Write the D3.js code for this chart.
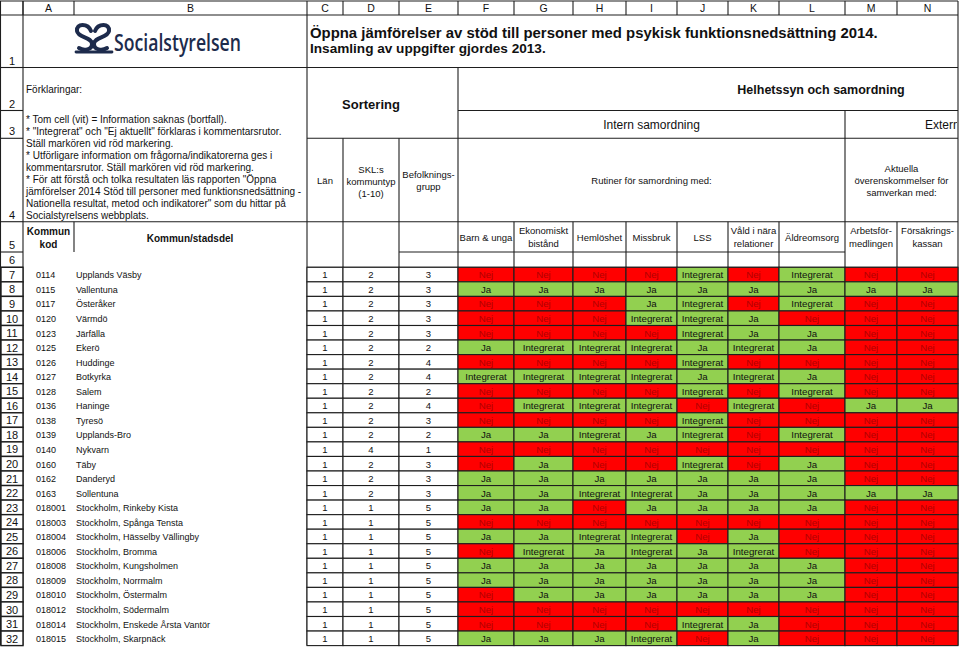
<!DOCTYPE html>
<html lang="sv">
<head>
<meta charset="utf-8">
<script src="https://cdn.jsdelivr.net/npm/d3@7"></script>
<style>
  html, body { margin: 0; padding: 0; background: #fff; }
  svg { display: block; font-family: "Liberation Sans", Arial, sans-serif; }
</style>
</head>
<body>
<div id="sheet"></div>
<script>
// ---- data ----
const colLetters = ["A", "B", "C", "D", "E", "F", "G", "H", "I", "J", "K", "L", "M", "N"];

const kommunKod = ["0114", "0115", "0117", "0120", "0123", "0125", "0126", "0127", "0128", "0136", "0138", "0139", "0140",
  "0160", "0162", "0163", "018001", "018003", "018004", "018006", "018008", "018009", "018010", "018012", "018014", "018015"];
const kommunNamn = ["Upplands Väsby", "Vallentuna", "Österåker", "Värmdö", "Järfälla", "Ekerö", "Huddinge", "Botkyrka",
  "Salem", "Haninge", "Tyresö", "Upplands-Bro", "Nykvarn", "Täby", "Danderyd", "Sollentuna",
  "Stockholm, Rinkeby Kista", "Stockholm, Spånga Tensta", "Stockholm, Hässelby Vällingby", "Stockholm, Bromma",
  "Stockholm, Kungsholmen", "Stockholm, Norrmalm", "Stockholm, Östermalm", "Stockholm, Södermalm",
  "Stockholm, Enskede Årsta Vantör", "Stockholm, Skarpnäck"];
const lan = [1, 1, 1, 1, 1, 1, 1, 1, 1, 1, 1, 1, 1, 1, 1, 1, 1, 1, 1, 1, 1, 1, 1, 1, 1, 1];
const kommuntyp = [2, 2, 2, 2, 2, 2, 2, 2, 2, 2, 2, 2, 4, 2, 2, 2, 1, 1, 1, 1, 1, 1, 1, 1, 1, 1];
const befolkningsgrupp = [3, 3, 3, 3, 3, 2, 4, 4, 2, 4, 3, 2, 1, 3, 3, 3, 5, 5, 5, 5, 5, 5, 5, 5, 5, 5];

const N = "Nej", J = "Ja", I = "Integrerat";
const barnOchUnga       = [N, J, N, N, N, J, N, I, N, N, N, J, N, N, J, J, J, N, J, N, J, J, N, N, N, J];
const ekonomisktBistand = [N, J, N, N, N, I, N, I, N, I, N, J, N, J, J, J, J, N, J, I, J, J, J, N, N, J];
const hemloshet         = [N, J, N, N, N, I, N, I, N, I, N, I, N, N, J, I, N, N, I, J, J, J, J, N, N, J];
const missbruk          = [N, J, J, I, N, I, N, I, N, I, N, J, N, N, J, I, J, N, I, I, J, J, J, N, N, I];
const lss               = [I, J, I, I, I, J, I, J, I, N, I, I, N, I, J, J, J, N, N, J, J, J, J, N, I, N];
const valdNaraRelationer= [N, J, N, J, J, I, N, I, N, I, N, N, N, N, J, J, J, N, J, I, J, J, J, N, J, J];
const aldreomsorg       = [I, J, I, N, J, J, N, J, I, N, N, I, N, J, J, J, J, N, N, N, J, J, J, N, N, N];
const arbetsformedlingen= [N, J, N, N, N, N, N, N, N, J, N, N, N, N, N, J, N, N, N, N, N, N, N, N, N, N];
const forsakringskassan = [N, J, N, N, N, N, N, N, N, J, N, N, N, N, N, J, N, N, N, N, N, N, N, N, N, N];

const svarKolumner = [
  { col: "F", label: ["Barn & unga"], values: barnOchUnga },
  { col: "G", label: ["Ekonomiskt", "bistånd"], values: ekonomisktBistand },
  { col: "H", label: ["Hemlöshet"], values: hemloshet },
  { col: "I", label: ["Missbruk"], values: missbruk },
  { col: "J", label: ["LSS"], values: lss },
  { col: "K", label: ["Våld i nära", "relationer"], values: valdNaraRelationer },
  { col: "L", label: ["Äldreomsorg"], values: aldreomsorg },
  { col: "M", label: ["Arbetsför-", "medlingen"], values: arbetsformedlingen },
  { col: "N", label: ["Försäkrings-", "kassan"], values: forsakringskassan }
];

const forklaringar = [
  "* Tom cell (vit) = Information saknas (bortfall).",
  "* \"Integrerat\" och \"Ej aktuellt\" förklaras i kommentarsrutor.",
  "Ställ markören vid röd markering.",
  "* Utförligare information om frågorna/indikatorerna ges i",
  "kommentarsrutor. Ställ markören vid röd markering.",
  "* För att förstå och tolka resultaten läs rapporten \"Öppna",
  "jämförelser 2014 Stöd till personer med funktionsnedsättning -",
  "Nationella resultat, metod och indikatorer\" som du hittar på",
  "Socialstyrelsens webbplats."
];

// ---- layout ----
const width = 960, height = 649;
const colEdges = [0, 23, 74, 307, 343, 399, 458, 514, 573, 626, 677, 728, 779, 845, 897, 958];
const rowEdges = [0, 15, 67.5, 110.5, 138.3, 221.7, 252, 267.3]; // header, rows 1-6
const dataTop = 267.3, dataBottom = 645.6;
const lineColor = "#1e1e1e";
const fill = { "Nej": "#ff0000", "Ja": "#92d050", "Integrerat": "#92d050" };
const textFill = { "Nej": "#b00000", "Ja": "#111", "Integrerat": "#111" };

const xL = c => colEdges[colLetters.indexOf(c) + 1];
const xR = c => colEdges[colLetters.indexOf(c) + 2];
const xC = c => (xL(c) + xR(c)) / 2;

const y = d3.scaleBand()
  .domain(d3.range(kommunKod.length))
  .range([dataTop, dataBottom]);

const svg = d3.select("#sheet").append("svg")
  .attr("width", width)
  .attr("height", height);

svg.append("defs").append("clipPath").attr("id", "clipRight")
  .append("rect").attr("x", 0).attr("y", 0).attr("width", 957).attr("height", height);

const lines = svg.append("g").attr("stroke", lineColor).attr("stroke-width", 1.1);
function seg(x1, y1, x2, y2) {
  lines.append("line").attr("x1", x1).attr("y1", y1).attr("x2", x2).attr("y2", y2);
}
function label(x, yy, txt, opts = {}) {
  const t = svg.append("text")
    .attr("x", x).attr("y", yy)
    .attr("text-anchor", opts.anchor || "middle")
    .attr("font-size", opts.size || 9.5)
    .attr("font-weight", opts.bold ? "bold" : null)
    .attr("fill", opts.color || "#111");
  if (opts.clip) t.attr("clip-path", "url(#clipRight)");
  t.text(txt);
  return t;
}
function multi(x, yCenter, arr, step, opts) {
  const start = yCenter - (arr.length - 1) * step / 2;
  arr.forEach((s, i) => label(x, start + i * step + 3.5, s, opts));
}

// ---- data cells ----
const rows = svg.append("g");
kommunKod.forEach((kod, i) => {
  const y0 = y(i), yb = y(i) + y.bandwidth();
  // row number box
  rows.append("rect").attr("x", 1).attr("y", y0).attr("width", 22).attr("height", y.bandwidth())
    .attr("fill", "#fff").attr("stroke", lineColor).attr("stroke-width", 1.4);
  label(12, yb - 3, i + 7, { size: 11 });
  label(36, yb - 3.5, kod, { anchor: "start", size: 9 });
  label(76, yb - 3.5, kommunNamn[i], { anchor: "start", size: 9 });
  [["C", lan], ["D", kommuntyp], ["E", befolkningsgrupp]].forEach(([c, arr]) => {
    rows.append("rect").attr("x", xL(c)).attr("y", y0).attr("width", xR(c) - xL(c)).attr("height", y.bandwidth())
      .attr("fill", "#fff").attr("stroke", lineColor).attr("stroke-width", 1.1);
    label(xC(c), yb - 3.5, arr[i], { size: 9.5 });
  });
  svarKolumner.forEach(k => {
    const v = k.values[i];
    rows.append("rect").attr("x", xL(k.col)).attr("y", y0).attr("width", xR(k.col) - xL(k.col)).attr("height", y.bandwidth())
      .attr("fill", fill[v]).attr("stroke", lineColor).attr("stroke-width", 1.1);
    label(xC(k.col), yb - 3.5, v, { size: 9.7, color: textFill[v] });
  });
});

// ---- column header row ----
colLetters.forEach(c => {
  seg(xL(c), 1, xL(c), rowEdges[1]);
  label(xC(c), 11.5, c, { size: 10.5 });
});
seg(0, 1, 958, 1);
seg(0.5, 1, 0.5, dataBottom);
seg(23, 1, 23, dataBottom);
seg(958, 1, 958, dataBottom);
seg(0, rowEdges[1], 958, rowEdges[1]);

// row numbers for rows 1-6
for (let r = 1; r <= 6; r++) {
  seg(0, rowEdges[r + 1], 23, rowEdges[r + 1]);
  label(12, rowEdges[r + 1] - 3, r, { size: 11 });
}

// ---- header structure ----
seg(xR("B"), rowEdges[1], xR("B"), dataBottom);      // B | C
seg(23, rowEdges[2], 958, rowEdges[2]);              // row 1 bottom
seg(xR("E"), rowEdges[2], xR("E"), dataBottom);      // E | F
seg(xL("F"), rowEdges[3], 958, rowEdges[3]);         // row 2 bottom (right part)
seg(xL("C"), rowEdges[4], 958, rowEdges[4]);         // row 3 bottom
seg(xR("L"), rowEdges[3], xR("L"), dataBottom);      // L | M
seg(23, rowEdges[5], 958, rowEdges[5]);              // row 4 bottom
["D", "E"].forEach(c => seg(xL(c), rowEdges[4], xL(c), dataBottom));
["G", "H", "I", "J", "K", "L"].forEach(c => seg(xL(c), rowEdges[5], xL(c), dataBottom));
seg(xL("N"), rowEdges[5], xL("N"), dataBottom);
seg(xL("B"), rowEdges[5], xL("B"), rowEdges[6]);     // A5 | B5
seg(xL("E"), rowEdges[6], xR("L"), rowEdges[6]);     // row 5 bottom
seg(xL("C"), rowEdges[7], 958, rowEdges[7]);         // row 6 bottom

// logo
const logo = svg.append("g").attr("fill", "none").attr("stroke", "#1d2b4c").attr("stroke-width", 4).attr("stroke-linecap", "round");
logo.append("path").attr("d", "M91 31 C88 23 76 23 77 31 C78 38 92 37 92 44 C92 50 84 51 79 48");
logo.append("path").attr("d", "M95 31 C98 23 110 23 109 31 C108 38 94 37 94 44 C94 50 102 51 107 48");
logo.append("path").attr("d", "M76 52 L112 52").attr("stroke-width", 2.8);
svg.append("text").attr("x", 114).attr("y", 51).attr("font-family", "'Open Sans', sans-serif")
  .attr("font-size", 24).attr("font-weight", 600).attr("fill", "#1d2b4c")
  .attr("textLength", 127).attr("lengthAdjust", "spacingAndGlyphs").text("Socialstyrelsen");

// title
label(310, 38, "Öppna jämförelser av stöd till personer med psykisk funktionsnedsättning 2014.", { anchor: "start", size: 14.9, bold: true });
label(310, 53, "Insamling av uppgifter gjordes 2013.", { anchor: "start", size: 13.6, bold: true });

// explanations
label(26, 93, "Förklaringar:", { anchor: "start", size: 10 });
forklaringar.forEach((s, i) => label(26, 123 + i * 12, s, { anchor: "start", size: 10 }));
multi(xC("A"), 238, ["Kommun", "kod"], 13, { size: 10, bold: true });
label(190, 241.5, "Kommun/stadsdel", { size: 10, bold: true });

// sortering
label(371, 108.5, "Sortering", { size: 13, bold: true });
label(xC("C"), 183.5, "Län", { size: 9.5 });
multi(xC("D"), 181, ["SKL:s", "kommuntyp", "(1-10)"], 12, { size: 9.5 });
multi(xC("E"), 180, ["Befolknings-", "grupp"], 12, { size: 9.5 });

// samordning
label(821, 93.5, "Helhetssyn och samordning", { size: 12.5, bold: true });
label((xL("F") + xR("L")) / 2, 128.5, "Intern samordning", { size: 12 });
label(925, 128.5, "Extern samordning", { anchor: "start", size: 12, clip: true });
label((xL("F") + xR("L")) / 2, 183.5, "Rutiner för samordning med:", { size: 9.5 });
multi((xL("M") + xR("N")) / 2, 180, ["Aktuella", "överenskommelser för", "samverkan med:"], 12, { size: 9.5 });
svarKolumner.forEach(k => {
  multi(xC(k.col), 237, k.label, 13, { size: 9.5 });
});
</script>
</body>
</html>
